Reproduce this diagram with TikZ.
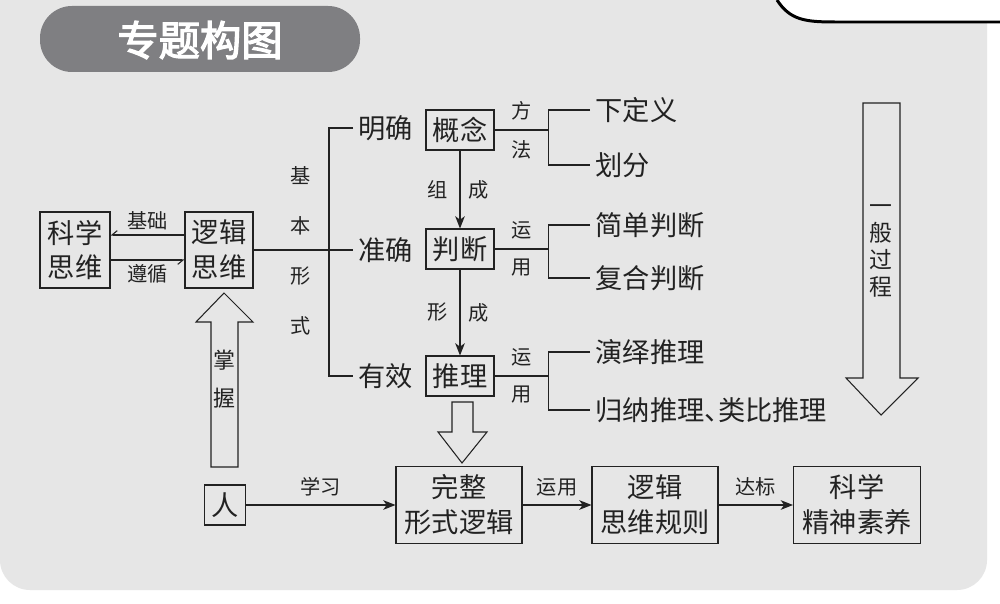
\documentclass[tikz,border=0pt]{standalone}
\usepackage{fontspec}
\setmainfont{Noto Sans CJK SC}
\newfontfamily\titlefont{Noto Sans CJK SC}[FakeBold=3]
\usetikzlibrary{arrows.meta}
\definecolor{panelgray}{HTML}{E6E6E6}
\definecolor{pillgray}{HTML}{7F7F82}
\definecolor{inkgray}{HTML}{222222}
\newcommand{\bigtxt}{\fontsize{15.5}{19.8}\selectfont}
\newcommand{\smalltxt}{\fontsize{11.5}{13}\selectfont}

\begin{document}
\begin{tikzpicture}[x=0.02cm, y=-0.02cm, line width=0.6pt, color=inkgray,
    box/.style={draw, inner sep=0pt, align=center, font=\bigtxt},
    word/.style={inner sep=0.1cm, font=\bigtxt, anchor=west},
    tag/.style={inner sep=1.5pt, font=\smalltxt},
    hollow/.style={draw, fill=panelgray, line join=miter},
    tip/.style={-{Stealth[length=7pt, width=5.5pt, inset=2pt]}},
    barb/.style={-{Straight Barb[right, length=3pt, width=5pt]}}]
    \useasboundingbox (0,0) rectangle (1000,604);

    % background panel and title
    \fill[white] (0,0) rectangle (1000,604);
    \fill[panelgray, rounded corners=0.6cm] (0,-40) rectangle (987,590);
    \fill[white] (772,-5) -- (777,0) .. controls (790,20) and (805,22) .. (835,22) -- (1005,22) -- (1005,-5) -- cycle;
    \draw[black, line width=1.7pt] (777,0) .. controls (790,20) and (805,22) .. (835,22) -- (1005,22);
    \fill[pillgray, rounded corners=0.64cm] (40,6) rectangle (360,72);
    \node[text=white, font=\titlefont\fontsize{23.5}{23.5}\selectfont] (title) at (200,40) {专题构图};

    % left part
    \node[box, minimum width=1.4cm, minimum height=1.52cm] (kxsw) at (75,250) {科学\\思维};
    \node[box, minimum width=1.36cm, minimum height=1.52cm] (ljsw) at (219,250) {逻辑\\思维};
    \draw[barb] ([yshift=0.3cm]ljsw.west) -- node[tag, above=1pt] {基础} ([yshift=0.3cm]kxsw.east);
    \draw[barb] ([yshift=-0.2cm]kxsw.east) -- node[tag, below=1pt] {遵循} ([yshift=-0.2cm]ljsw.west);

    % three forms
    \node[word] (mq) at (353,128) {明确};
    \node[word] (zq) at (353,250) {准确};
    \node[word] (yx) at (353,376) {有效};
    \draw (ljsw.east) -- (zq.west);
    \draw (mq.west) -- ++(-24,0) |- (yx.west);
    \node[tag, align=center, font=\fontsize{11.5}{28.4}\selectfont] (jbxs) at (301,251) {基\\本\\形\\式};

    \node[box, minimum width=1.36cm, minimum height=0.8cm] (gn) at (460,130) {概念};
    \node[box, minimum width=1.36cm, minimum height=0.8cm] (pd) at (460,249) {判断};
    \node[box, minimum width=1.36cm, minimum height=0.8cm] (tl) at (460,376) {推理};
    \draw[tip] (gn) -- node[tag, left=5pt] {组} node[tag, right=3pt] {成} (pd);
    \draw[tip] (pd) -- node[tag, left=5pt] {形} node[tag, right=3pt] {成} (tl);

    % brackets on the right
    \draw (gn.east) -- node[tag, above=4pt] {方} node[tag, below=4pt] {法} ++(54,0) coordinate (b1);
    \draw (pd.east) -- node[tag, above=4pt] {运} node[tag, below=4pt] {用} ++(54,0) coordinate (b2);
    \draw (tl.east) -- node[tag, above=4pt] {运} node[tag, below=4pt] {用} ++(54,0) coordinate (b3);
    \node[word] (xdy) at (590,110) {下定义};
    \node[word] (hf) at (590,165) {划分};
    \node[word] (jdpd) at (590,225) {简单判断};
    \node[word] (fhpd) at (590,278) {复合判断};
    \node[word] (yytl) at (590,352) {演绎推理};
    \node[word] (gntl) at (590,410) {归纳推理、\kern-0.5em类比推理};
    \draw (xdy.west) -| (b1) |- (hf.west);
    \draw (jdpd.west) -| (b2) |- (fhpd.west);
    \draw (yytl.west) -| (b3) |- (gntl.west);

    % hollow arrows
    \draw[hollow] (452,402) -- (473,402) -- (473,432) -- (487,432) -- (462,463) -- (438,432) -- (452,432) -- cycle;
    \draw[hollow] (211,467) -- (238,467) -- (238,322) -- (253,322) -- (224,293) -- (196,322) -- (211,322) -- cycle;
    \node[align=center, font=\fontsize{12.5}{21.5}\selectfont] (zw) at (224,379) {掌\\握};
    \draw[hollow] (863,103) -- (900,103) -- (900,378) -- (918,378) -- (881,415) -- (846,378) -- (863,378) -- cycle;
    \node[align=center, font=\fontsize{13}{15.3}\selectfont] (ybgc) at (881,251) {一\\般\\过\\程};

    % bottom row
    \node[box, minimum width=0.82cm, minimum height=0.8cm] (ren) at (225,505) {人};
    \node[box, minimum width=2.52cm, minimum height=1.54cm] (wzxs) at (459,505) {完整\\形式逻辑};
    \node[box, minimum width=2.52cm, minimum height=1.54cm] (ljgz) at (655,505) {逻辑\\思维规则};
    \node[box, minimum width=2.54cm, minimum height=1.54cm] (kxjs) at (857,505) {科学\\精神素养};
    \draw[tip] (ren) -- node[tag, above=3pt] {学习} (wzxs);
    \draw[tip] (wzxs) -- node[tag, above=3pt] {运用} (ljgz);
    \draw[tip] (ljgz) -- node[tag, above=3pt] {达标} (kxjs);
\end{tikzpicture}
\end{document}
